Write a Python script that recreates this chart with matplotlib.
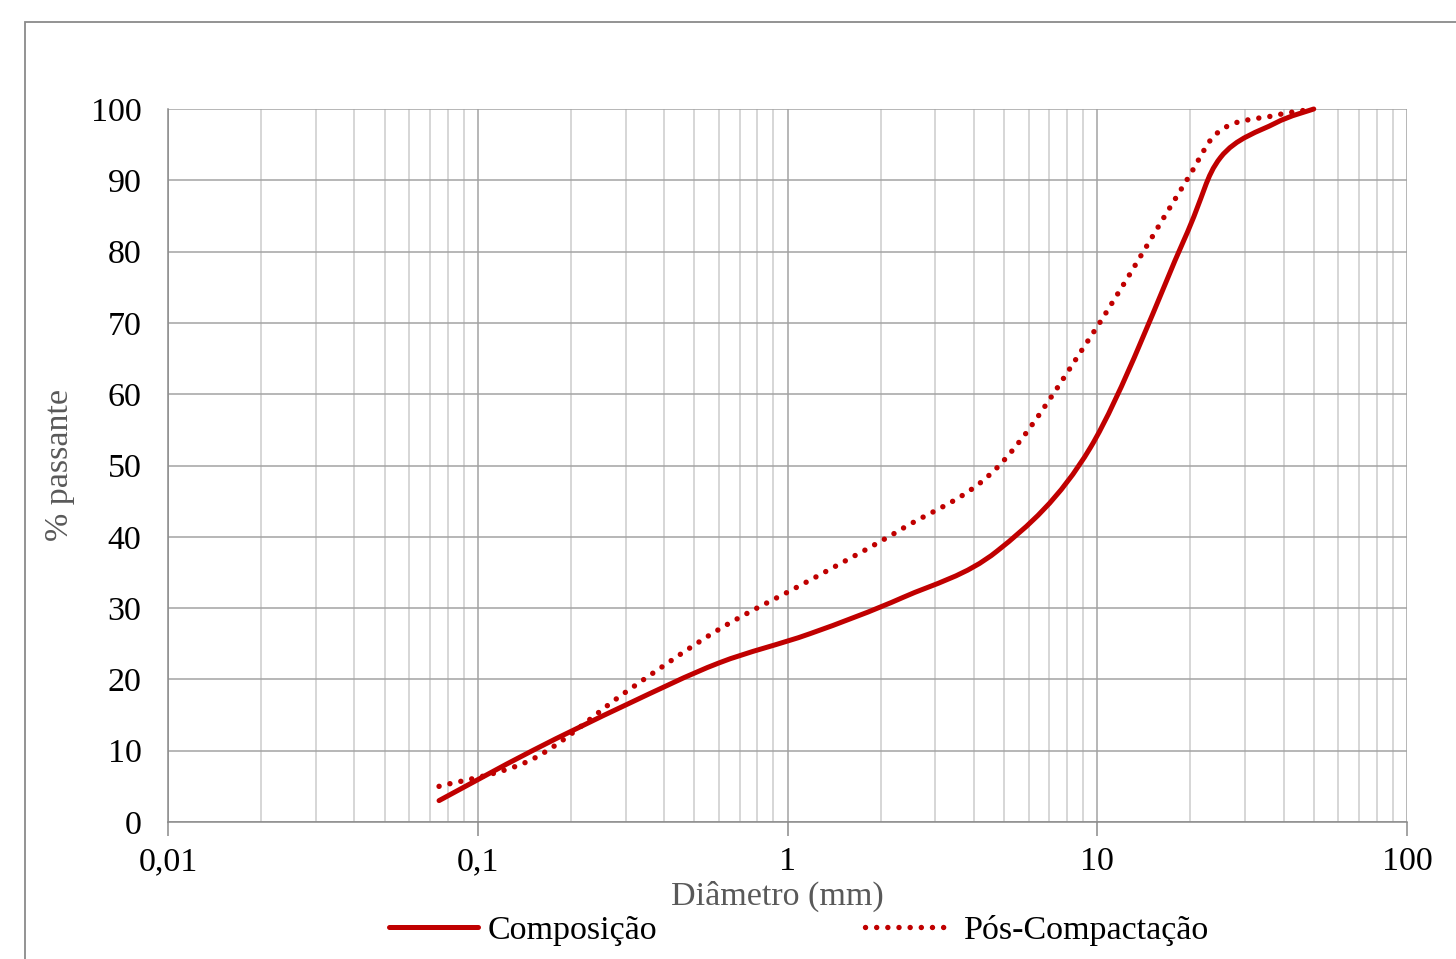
import numpy as np
import matplotlib
matplotlib.use("Agg")
import matplotlib.pyplot as plt
from matplotlib.path import Path
from matplotlib.patches import PathPatch, Rectangle
from matplotlib.lines import Line2D

# sieve openings (mm) and % passing
diam_comp = [0.075, 0.15, 0.3, 0.6, 1.18, 2.36, 4.75, 9.5, 19, 25, 37.5, 50]
pass_comp = [3, 10, 16.4, 22.3, 26.4, 31.5, 38, 52.5, 81.5, 93.2, 98, 100]

diam_pos = [0.075, 0.15, 0.3, 0.6, 1.18, 2.36, 4.75, 9.5, 19, 25, 37.5, 50]
pass_pos = [5, 8.8, 18.2, 27, 33.9, 41.2, 49.7, 68, 89.3, 97, 99.1, 100]

x_ticks = [0.01, 0.1, 1, 10, 100]
x_tick_labels = ["0,01", "0,1", "1", "10", "100"]
y_ticks = list(range(0, 101, 10))

series_names = ["Composição", "Pós-Compactação"]
RED = "#C00000"
FS = 24.5

plt.rcParams["font.family"] = ["Liberation Serif", "DejaVu Serif"]


def smooth_path(xs, ys):
    """Excel-like smoothed line: cubic Bezier through the points, built in log-x space."""
    pts = np.column_stack([np.log10(xs), ys]).astype(float)
    n = len(pts)
    verts = [pts[0]]
    codes = [Path.MOVETO]
    for i in range(n - 1):
        p0 = pts[max(i - 1, 0)]
        p1 = pts[i]
        p2 = pts[i + 1]
        p3 = pts[min(i + 2, n - 1)]
        c1 = p1 + (p2 - p0) / 6.0
        c2 = p2 - (p3 - p1) / 6.0
        verts += [c1, c2, p2]
        codes += [Path.CURVE4] * 3
    verts = np.array(verts)
    verts[:, 0] = 10 ** verts[:, 0]
    return Path(verts, codes)


fig = plt.figure(figsize=(14.56, 9.59), dpi=100)
ax = fig.add_axes([168 / 1456, 137 / 959, (1407 - 168) / 1456, (822 - 109) / 959])

# outer chart-area frame (runs off the right and bottom edges)
fig.patches.append(Rectangle((25 / 1456, -0.05), 1.1, (959 - 22) / 959 + 0.05,
                             transform=fig.transFigure, fill=False,
                             edgecolor="#8a8a8a", linewidth=1.3))

ax.set_xscale("log")
ax.set_xlim(0.01, 100)
ax.set_ylim(0, 100)

# grid
ax.grid(True, which="major", axis="y", color="#a3a3a3", linewidth=1.1)
ax.grid(True, which="major", axis="x", color="#a3a3a3", linewidth=1.1)
ax.grid(True, which="minor", axis="x", color="#cccccc", linewidth=1.1)
ax.set_axisbelow(True)

ax.set_xticks(x_ticks)
ax.set_xticklabels(x_tick_labels)
ax.set_yticks(y_ticks)
ax.tick_params(axis="x", which="major", length=10, color="#8a8a8a", width=1.1,
               labelsize=FS, pad=8)
ax.tick_params(axis="x", which="minor", length=0)
ax.tick_params(axis="y", length=0, labelsize=FS, pad=19)

for side in ["top", "right"]:
    ax.spines[side].set_visible(False)
for side in ["left", "bottom"]:
    ax.spines[side].set_color("#8a8a8a")
    ax.spines[side].set_linewidth(1.1)

# curves
ax.add_patch(PathPatch(smooth_path(diam_comp, pass_comp), fill=False,
                       edgecolor=RED, linewidth=3.6, capstyle="round",
                       joinstyle="round", clip_on=False, zorder=3))
ax.add_patch(PathPatch(smooth_path(diam_pos, pass_pos), fill=False,
                       edgecolor=RED, linewidth=3.9, linestyle=(0, (0.01, 2.05)),
                       capstyle="round", joinstyle="round", clip_on=False, zorder=3))

ax.set_xlabel("Diâmetro (mm)", fontsize=FS, color="#595959")
ax.xaxis.set_label_coords((777 - 168) / 1239, -(896 - 822) / 713)
ax.xaxis.label.set_va("center")
ax.set_ylabel("% passante", fontsize=FS, color="#595959")
ax.yaxis.set_label_coords(-(168 - 60) / 1239, (822 - 465) / 713)
ax.yaxis.label.set_va("center")

handles = [
    Line2D([], [], color=RED, linewidth=3.6, solid_capstyle="round"),
    Line2D([], [], color=RED, linewidth=3.9, linestyle=(0, (0.01, 2.05)),
           dash_capstyle="round"),
]
fig.legend(handles, series_names, loc="center", ncol=2,
           bbox_to_anchor=(799 / 1456, 1 - 930 / 959), frameon=False,
           fontsize=FS, handlelength=2.6, handletextpad=0.3, columnspacing=6.1,
           borderaxespad=0)

fig.savefig("out.png", dpi=100)
